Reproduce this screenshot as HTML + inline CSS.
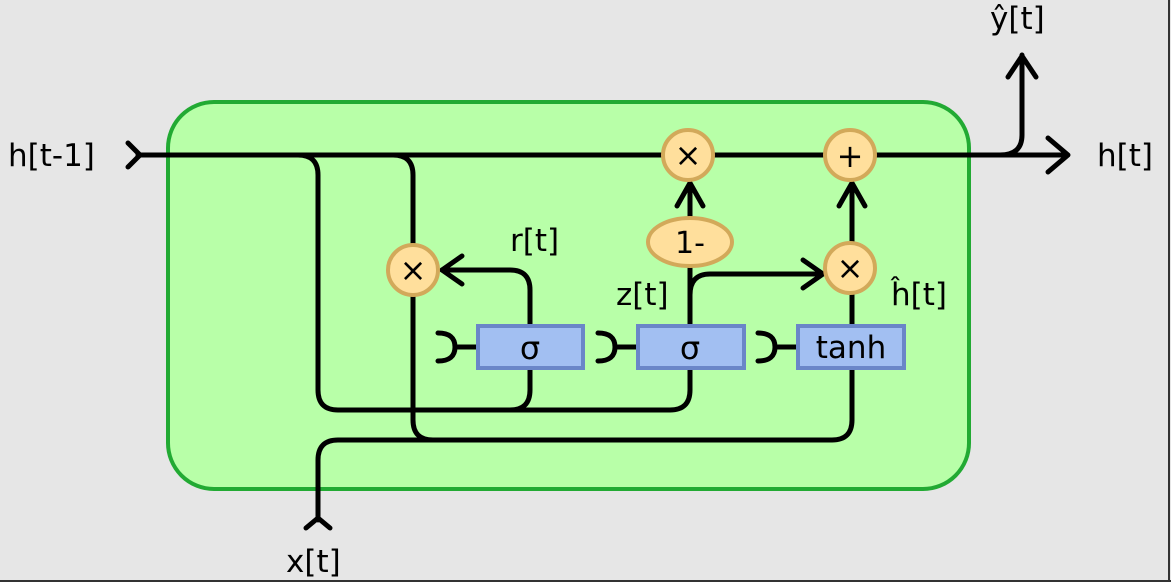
<!DOCTYPE html>
<html><head><style>
html,body{margin:0;padding:0;background:#e6e6e6}
svg{display:block}
text{font-family:"DejaVu Sans","Liberation Sans",sans-serif;fill:#000}
</style></head><body>
<svg width="1171" height="582" viewBox="0 0 1171 582">
<rect x="0" y="0" width="1171" height="582" fill="#e6e6e6"/>
<line x1="1169" y1="0" x2="1169" y2="582" stroke="#333" stroke-width="2"/>
<line x1="0" y1="581" x2="1171" y2="581" stroke="#333" stroke-width="2"/>
<rect x="168" y="102" width="801" height="387" rx="46" fill="#b8ffa8" stroke="#22aa33" stroke-width="4"/>
<g fill="none" stroke="#000" stroke-width="5" stroke-linecap="round" stroke-linejoin="round">
<path d="M138 155 H1065"/>
<path d="M1048 138 L1068 155 L1048 172"/>
<path d="M128 143 L140 155 L128 167"/>
<path d="M1000 155 Q1022 155 1022 135 V55"/>
<path d="M1008 77 L1022 56 L1036 77"/>
<path d="M298 155 Q318 155 318 175 V390 Q318 410 338 410 H510 Q530 410 530 390 V369"/>
<path d="M510 410 H670 Q690 410 690 390 V369"/>
<path d="M393 155 Q413 155 413 175 V420 Q413 440 433 440 H832 Q852 440 852 420 V369"/>
<path d="M318 520 V460 Q318 440 338 440 H433"/>
<path d="M306 528 L318 518 L330 528"/>
<path d="M530 325 V290 Q530 270 510 270 H442"/>
<path d="M462 256 L442 270 L462 284"/>
<path d="M690 325 V266"/>
<path d="M690 295 Q690 274 710 274 H822"/>
<path d="M803 260 L823 274 L803 288"/>
<path d="M690 218 V185"/>
<path d="M677 206 L690 183 L703 206"/>
<path d="M852 325 V294"/>
<path d="M852 242 V184"/>
<path d="M839 206 L852 183 L865 206"/>
<path d="M455 347 H477"/><path d="M438 333 Q455 333 455 347 Q455 361 438 361"/>
<path d="M615 347 H637"/><path d="M598 333 Q615 333 615 347 Q615 361 598 361"/>
<path d="M775 347 H797"/><path d="M758 333 Q775 333 775 347 Q775 361 758 361"/>
</g>
<g fill="#a2bff2" stroke="#6a86c8" stroke-width="4">
<rect x="478" y="326" width="105" height="42"/>
<rect x="638" y="326" width="106" height="42"/>
<rect x="798" y="326" width="106" height="42"/>
</g>
<g fill="#ffdf9c" stroke="#d2a95a" stroke-width="4">
<circle cx="413" cy="270" r="25"/>
<circle cx="688" cy="155" r="25"/>
<circle cx="850" cy="155" r="25"/>
<circle cx="850" cy="268" r="25"/>
<ellipse cx="690" cy="242" rx="42" ry="24"/>
</g>
<g font-size="32" text-anchor="middle">
<text x="413" y="281">×</text>
<text x="688" y="166">×</text>
<text x="850" y="167">+</text>
<text x="850" y="279">×</text>
<text x="690" y="253" font-size="30">1-</text>
<text x="530" y="359">σ</text>
<text x="690" y="359">σ</text>
<text x="851" y="358" font-size="31">tanh</text>
</g>
<g font-size="31">
<text x="8" y="166">h[t-1]</text>
<text x="1097" y="166">h[t]</text>
<text x="510" y="251">r[t]</text>
<text x="616" y="305">z[t]</text>
<text x="891" y="305">ĥ[t]</text>
<text x="990" y="29">ŷ[t]</text>
<text x="286" y="572">x[t]</text>
</g>
</svg>
</body></html>
